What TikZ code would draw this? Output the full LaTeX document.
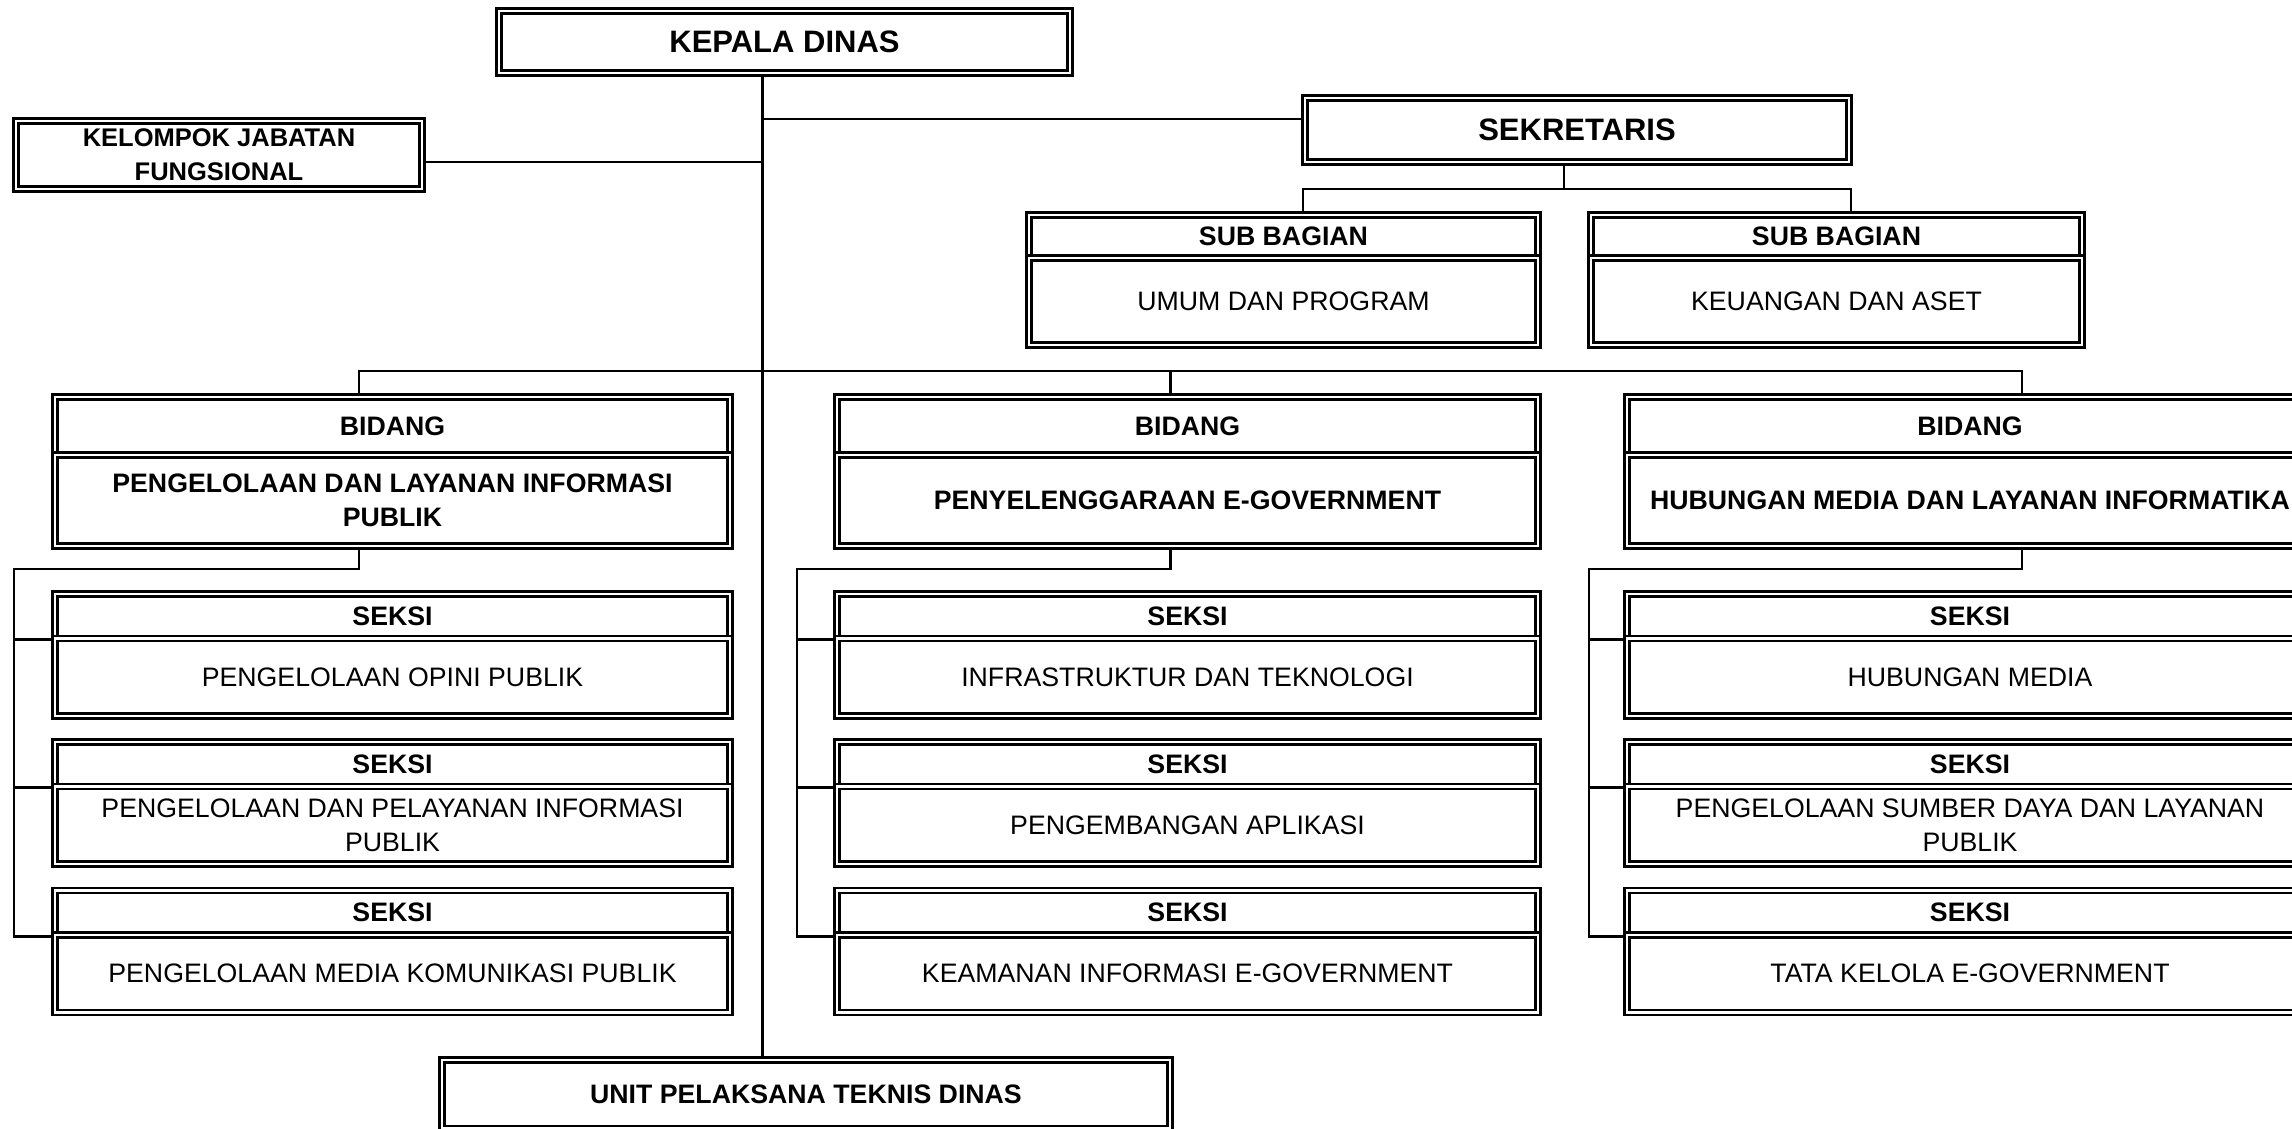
\documentclass[tikz,border=0pt]{standalone}
\usepackage{fontspec}
\setmainfont{Liberation Sans}
\usetikzlibrary{backgrounds}
\begin{document}
\begin{tikzpicture}[x=1pt,y=-1pt,
  obox/.style={draw, double=white, double distance=2.3pt, line width=2.75pt, inner sep=0pt, align=center},
  bigb/.style={obox, font=\fontsize{31}{36}\selectfont\bfseries},
  hb/.style={obox, font=\fontsize{26.7}{34}\selectfont\bfseries},
  rg/.style={obox, font=\fontsize{26.7}{34}\selectfont},
  conn/.style={line width=2.8pt}]
\useasboundingbox (0,0) rectangle (2292,1129);
\clip (0,0) rectangle (2292,1129);

% top level
\node[bigb, minimum width=571.5pt, minimum height=62.5pt] (kepala) at (784.5,42) {KEPALA DINAS};
\node[obox, font=\fontsize{25.5}{33.6}\selectfont\bfseries, minimum width=406pt, minimum height=68.5pt] (kelompok) at (219,155) {KELOMPOK JABATAN\\FUNGSIONAL};
\node[bigb, minimum width=544.5pt, minimum height=64.5pt] (sekretaris) at (1577,130) {SEKRETARIS};

% sub bagian
\node[hb, minimum width=509.5pt, minimum height=43.25pt] (sb1h) at (1283.5,236.4) {SUB BAGIAN};
\node[rg, minimum width=509.5pt, minimum height=87.25pt] (sb1b) at (1283.5,301.6) {UMUM DAN PROGRAM};
\node[hb, minimum width=491.5pt, minimum height=43.25pt] (sb2h) at (1836.5,236.4) {SUB BAGIAN};
\node[rg, minimum width=491.5pt, minimum height=87.25pt] (sb2b) at (1836.5,301.6) {KEUANGAN DAN ASET};

% bidang
\node[hb, minimum width=675.5pt, minimum height=58.25pt] (b1h) at (392.5,425.9) {BIDANG};
\node[hb, minimum width=675.5pt, minimum height=91.25pt] (b1b) at (392.5,500.6) {PENGELOLAAN DAN LAYANAN INFORMASI\\PUBLIK};
\node[hb, minimum width=701.5pt, minimum height=58.25pt] (b2h) at (1187.5,425.9) {BIDANG};
\node[hb, minimum width=701.5pt, minimum height=91.25pt] (b2b) at (1187.5,500.6) {PENYELENGGARAAN E-GOVERNMENT};
\node[hb, minimum width=686.5pt, minimum height=58.25pt] (b3h) at (1970,425.9) {BIDANG};
\node[hb, minimum width=686.5pt, minimum height=91.25pt] (b3b) at (1970,500.6) {HUBUNGAN MEDIA DAN LAYANAN INFORMATIKA};

% seksi column 1
\node[hb, minimum width=675.5pt, minimum height=44.5pt] (s11h) at (392.5,616.25) {SEKSI};
\node[rg, minimum width=675.5pt, minimum height=77.5pt] (s11b) at (392.5,677.25) {PENGELOLAAN OPINI PUBLIK};
\node[hb, minimum width=675.5pt, minimum height=44.5pt] (s12h) at (392.5,764.25) {SEKSI};
\node[rg, minimum width=675.5pt, minimum height=77.5pt] (s12b) at (392.5,825.25) {PENGELOLAAN DAN PELAYANAN INFORMASI\\PUBLIK};
\node[hb, minimum width=675.5pt, minimum height=44.5pt] (s13h) at (392.5,912.75) {SEKSI};
\node[rg, minimum width=675.5pt, minimum height=77.5pt] (s13b) at (392.5,973.75) {PENGELOLAAN MEDIA KOMUNIKASI PUBLIK};

% seksi column 2
\node[hb, minimum width=701.5pt, minimum height=44.5pt] (s21h) at (1187.5,616.25) {SEKSI};
\node[rg, minimum width=701.5pt, minimum height=77.5pt] (s21b) at (1187.5,677.25) {INFRASTRUKTUR DAN TEKNOLOGI};
\node[hb, minimum width=701.5pt, minimum height=44.5pt] (s22h) at (1187.5,764.25) {SEKSI};
\node[rg, minimum width=701.5pt, minimum height=77.5pt] (s22b) at (1187.5,825.25) {PENGEMBANGAN APLIKASI};
\node[hb, minimum width=701.5pt, minimum height=44.5pt] (s23h) at (1187.5,912.75) {SEKSI};
\node[rg, minimum width=701.5pt, minimum height=77.5pt] (s23b) at (1187.5,973.75) {KEAMANAN INFORMASI E-GOVERNMENT};

% seksi column 3
\node[hb, minimum width=686.5pt, minimum height=44.5pt] (s31h) at (1970,616.25) {SEKSI};
\node[rg, minimum width=686.5pt, minimum height=77.5pt] (s31b) at (1970,677.25) {HUBUNGAN MEDIA};
\node[hb, minimum width=686.5pt, minimum height=44.5pt] (s32h) at (1970,764.25) {SEKSI};
\node[rg, minimum width=686.5pt, minimum height=77.5pt] (s32b) at (1970,825.25) {PENGELOLAAN SUMBER DAYA DAN LAYANAN\\PUBLIK};
\node[hb, minimum width=686.5pt, minimum height=44.5pt] (s33h) at (1970,912.75) {SEKSI};
\node[rg, minimum width=686.5pt, minimum height=77.5pt] (s33b) at (1970,973.75) {TATA KELOLA E-GOVERNMENT};

% UPT
\node[hb, minimum width=728.5pt, minimum height=68.75pt] (upt) at (806,1094.1) {UNIT PELAKSANA TEKNIS DINAS};

% junction coordinates
\coordinate (spine) at (762.5,0);
\coordinate (jk) at (762.5,162);
\coordinate (js) at (762.5,119);
\coordinate (sb) at (1564,189);
\coordinate (sbl) at (1303,189);
\coordinate (sbr) at (1851,189);
\coordinate (bl) at (359,371);
\coordinate (bm) at (1170.5,371);
\coordinate (br) at (2022,371);
\coordinate (c1d) at (359,569);
\coordinate (c1l) at (14,569);
\coordinate (c2d) at (1170.5,569);
\coordinate (c2l) at (797,569);
\coordinate (c3d) at (2022,569);
\coordinate (c3l) at (1589,569);

\begin{scope}[on background layer]
\draw[conn] (kepala.south -| spine) -- (upt.north -| spine);
\draw[conn] (kelompok.east |- jk) -- (jk);
\draw[conn] (js) -- (js -| sekretaris.west);
\draw[conn] (sb |- sekretaris.south) -- (sb);
\draw[conn] (sbl |- sb1h.north) -- (sbl) -- (sbr) -- (sbr |- sb2h.north);
\draw[conn] (bl |- b1h.north) -- (bl) -- (br) -- (br |- b3h.north);
\draw[conn] (bm) -- (bm |- b2h.north);
% column 1
\draw[conn] (c1d |- b1b.south) -- (c1d) -- (c1l) -- (c1l |- s13h.south) -- (s13h.south west);
\draw[conn] (c1l |- s11h.south) -- (s11h.south west);
\draw[conn] (c1l |- s12h.south) -- (s12h.south west);
% column 2
\draw[conn] (c2d |- b2b.south) -- (c2d) -- (c2l) -- (c2l |- s23h.south) -- (s23h.south west);
\draw[conn] (c2l |- s21h.south) -- (s21h.south west);
\draw[conn] (c2l |- s22h.south) -- (s22h.south west);
% column 3
\draw[conn] (c3d |- b3b.south) -- (c3d) -- (c3l) -- (c3l |- s33h.south) -- (s33h.south west);
\draw[conn] (c3l |- s31h.south) -- (s31h.south west);
\draw[conn] (c3l |- s32h.south) -- (s32h.south west);
\end{scope}
\end{tikzpicture}
\end{document}
